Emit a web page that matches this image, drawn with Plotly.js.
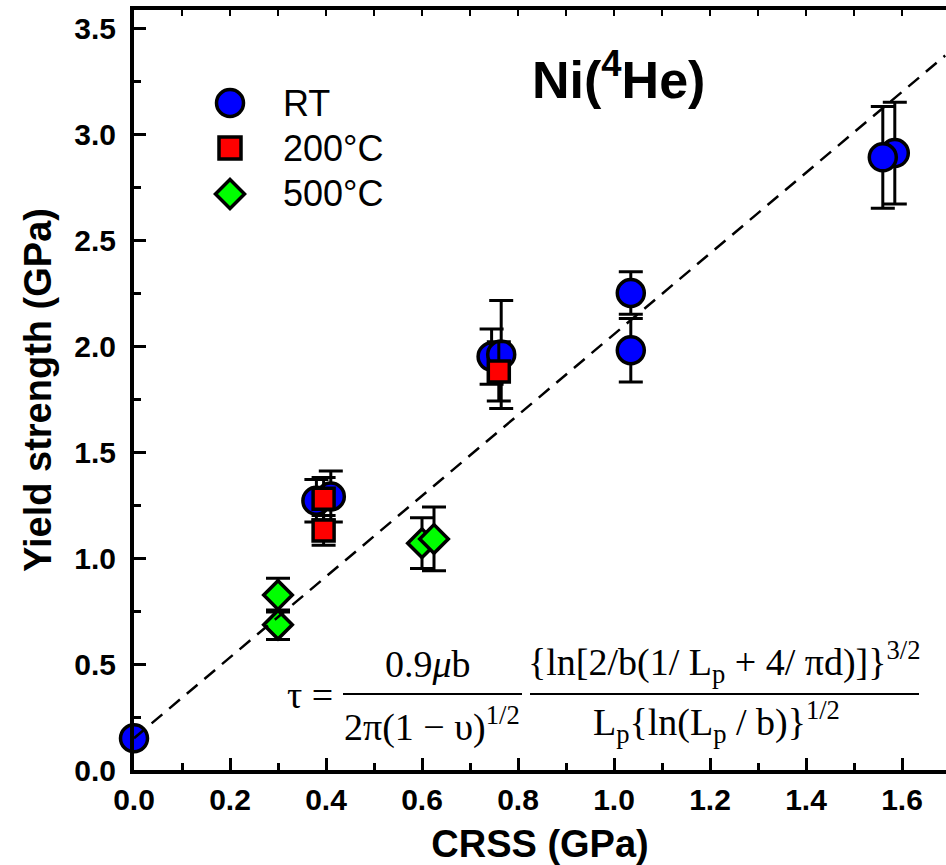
<!DOCTYPE html>
<html>
<head>
<meta charset="utf-8">
<script src="https://cdn.plot.ly/plotly-3.0.1.min.js"></script>
<style>html,body{margin:0;padding:0;background:#fff;} #chart{width:946px;height:865px;}</style>
</head>
<body>
<div id="chart"></div>
<script>
// ---- data ----
const rtX   = [0.0, 0.38, 0.41, 0.745, 0.765, 1.035, 1.035, 1.585, 1.56];
const rtY   = [0.15, 1.27, 1.29, 1.95, 1.96, 2.25, 1.98, 2.91, 2.89];
const rtErr = [0.03, 0.10, 0.12, 0.13, 0.255, 0.10, 0.15, 0.24, 0.24];

const t200X   = [0.395, 0.395, 0.76];
const t200Y   = [1.28, 1.13, 1.88];
const t200Err = [0.10, 0.07, 0.14];

const t500X   = [0.30, 0.30, 0.60, 0.625];
const t500Y   = [0.825, 0.685, 1.07, 1.09];
const t500Err = [0.08, 0.07, 0.12, 0.15];

const fitX = [0.0, 1.69];
const fitY = [0.15, 3.37];

const legendNames = ['RT', '200°C', '500°C'];
const legendColors = ['#0000ff', '#ff0000', '#00ff00'];

const xTickVals = [0, 0.2, 0.4, 0.6, 0.8, 1.0, 1.2, 1.4, 1.6];
const yTickVals = [0, 0.5, 1.0, 1.5, 2.0, 2.5, 3.0, 3.5];

// ---- geometry helpers (pixel -> paper) ----
const W = 946, H = 865;
const L = 134, T = 10, B = 95, R = 0;
const PW = W - L - R, PH = H - T - B;
const px = v => (v - L) / PW;
const py = v => (H - B - v) / PH;

const errStyle = arr => ({type: 'data', array: arr, visible: true, color: '#000', thickness: 3, width: 12});

const traces = [
  {x: fitX, y: fitY, xaxis: 'x2', yaxis: 'y', mode: 'lines', hoverinfo: 'skip',
   line: {color: '#000', width: 2.5, dash: '14px,9px'}, showlegend: false},
  {x: rtX, y: rtY, mode: 'markers', name: legendNames[0], error_y: errStyle(rtErr), cliponaxis: false,
   marker: {symbol: 'circle', size: 27, color: legendColors[0], line: {color: '#000', width: 3.5}}},
  {x: t200X, y: t200Y, mode: 'markers', name: legendNames[1], error_y: errStyle(t200Err), cliponaxis: false,
   marker: {symbol: 'square', size: 21, color: legendColors[1], line: {color: '#000', width: 3.5}}},
  {x: t500X, y: t500Y, mode: 'markers', name: legendNames[2], error_y: errStyle(t500Err), cliponaxis: false,
   marker: {symbol: 'diamond', size: 22, color: legendColors[2], line: {color: '#000', width: 3.5}}}
];

const tickFont = {family: 'Liberation Sans, Arial, sans-serif', size: 30, color: '#000', weight: 'bold'};
const titleFont = {family: 'Liberation Sans, Arial, sans-serif', size: 38, color: '#000', weight: 'bold'};
const xMax = (W - L) / 480;
const yMax = (H - B - T) / 212;

// legend glyphs
const lgX = 230, lgY = [103, 148, 194];
const shapes = [];
const annotations = [];
shapes.push({type: 'circle', xref: 'paper', yref: 'paper',
  x0: px(lgX - 13.5), x1: px(lgX + 13.5), y0: py(lgY[0] + 13.5), y1: py(lgY[0] - 13.5),
  fillcolor: legendColors[0], line: {color: '#000', width: 3.5}});
shapes.push({type: 'rect', xref: 'paper', yref: 'paper',
  x0: px(lgX - 11), x1: px(lgX + 11), y0: py(lgY[1] + 11), y1: py(lgY[1] - 11),
  fillcolor: legendColors[1], line: {color: '#000', width: 3.5}});
(function(){
  const r = 14.5, cx = lgX, cy = lgY[2];
  const p = [[cx, cy - r], [cx + r, cy], [cx, cy + r], [cx - r, cy]]
    .map(q => px(q[0]) + ',' + py(q[1]));
  shapes.push({type: 'path', xref: 'paper', yref: 'paper',
    path: 'M' + p[0] + 'L' + p[1] + 'L' + p[2] + 'L' + p[3] + 'Z',
    fillcolor: legendColors[2], line: {color: '#000', width: 3.5}});
})();
legendNames.forEach((n, i) => annotations.push({
  xref: 'paper', yref: 'paper', x: px(281), y: py(lgY[i]), xanchor: 'left', yanchor: 'middle',
  text: n, showarrow: false, font: {family: 'Liberation Sans, Arial, sans-serif', size: 36, color: '#000'}
}));

// title
annotations.push({xref: 'paper', yref: 'paper', x: px(618), y: py(76), xanchor: 'center', yanchor: 'middle',
  text: 'Ni(<sup>4</sup>He)', showarrow: false,
  font: {family: 'Liberation Sans, Arial, sans-serif', size: 52, color: '#000', weight: 'bold'}});

// formula
const fF = {family: 'Liberation Serif, Times New Roman, serif', size: 38, color: '#000'};
const fAnn = (x, y, text, anchor) => annotations.push({xref: 'paper', yref: 'paper', x: px(x), y: py(y),
  xanchor: anchor || 'center', yanchor: 'middle', text: text, showarrow: false, font: fF});
fAnn(285, 695, 'τ =', 'left');
fAnn(428, 664, '0.9<i>μ</i>b');
fAnn(432, 724, '2π(1 − υ)<sup>1/2</sup>');
fAnn(724, 662, '{ln[2/b(1/ L<sub>p</sub> + 4/ πd)]}<sup>3/2</sup>');
fAnn(716, 722, 'L<sub>p</sub>{ln(L<sub>p</sub> / b)}<sup>1/2</sup>');
shapes.push({type: 'line', xref: 'paper', yref: 'paper', x0: px(343), x1: px(522), y0: py(694), y1: py(694),
  line: {color: '#000', width: 1.8}});
shapes.push({type: 'line', xref: 'paper', yref: 'paper', x0: px(530), x1: px(919), y0: py(694), y1: py(694),
  line: {color: '#000', width: 1.8}});

const layout = {
  width: W, height: H,
  margin: {l: L, r: R, t: T, b: B},
  paper_bgcolor: '#fff', plot_bgcolor: '#fff',
  showlegend: false,
  xaxis: {range: [0, xMax], showgrid: false, zeroline: false, showline: true, linewidth: 4, linecolor: '#000',
    ticks: 'inside', ticklen: 12, tickwidth: 3, tickcolor: '#000', tickvals: xTickVals, tickformat: '.1f',
    tickfont: tickFont,
    minor: {ticks: 'inside', ticklen: 7, tickwidth: 3, tickcolor: '#000', dtick: 0.1, tick0: 0},
    title: {text: 'CRSS (GPa)', font: titleFont, standoff: 16}},
  xaxis2: {overlaying: 'x', side: 'top', anchor: 'y', range: [0, xMax], showgrid: false, zeroline: false,
    showline: true, linewidth: 4, linecolor: '#000', ticks: 'inside', ticklen: 6, tickwidth: 2.5,
    tickcolor: '#000', dtick: 0.1, tick0: 0, showticklabels: false},
  yaxis: {range: [0, yMax], showgrid: false, zeroline: false, showline: true, linewidth: 4, linecolor: '#000',
    ticks: 'inside', ticklen: 12, tickwidth: 3, tickcolor: '#000', tickvals: yTickVals, tickformat: '.1f',
    tickfont: tickFont, ticklabelstandoff: 8,
    minor: {ticks: 'inside', ticklen: 7, tickwidth: 3, tickcolor: '#000', dtick: 0.25, tick0: 0},
    title: {text: 'Yield strength (GPa)', font: titleFont, standoff: 12}},
  shapes: shapes,
  annotations: annotations
};

Plotly.newPlot('chart', traces, layout, {displayModeBar: false, staticPlot: true});
</script>
</body>
</html>
